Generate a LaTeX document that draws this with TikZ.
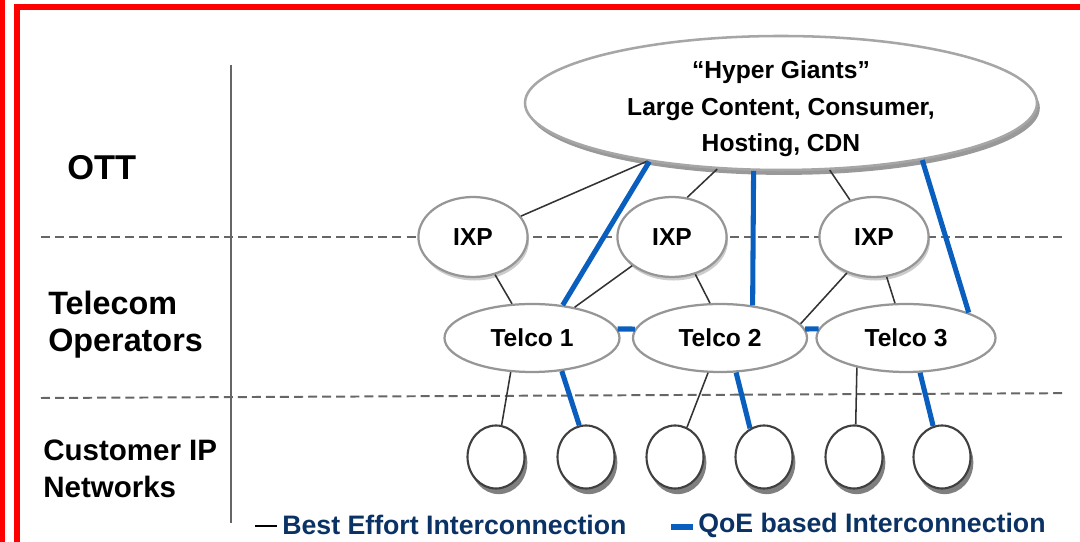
\documentclass[tikz,border=0pt]{standalone}
\usepackage{fontspec}
\setmainfont{Liberation Sans}
\usepackage{xcolor}
\usepackage{tikz}
\usetikzlibrary{
	shapes.geometric,
	shadows
}

\definecolor{frame-red}{RGB}{255,0,0}
\definecolor{qoe-blue}{RGB}{10,95,190}
\definecolor{legend-navy}{RGB}{10,50,100}
\definecolor{rim-gray}{RGB}{150,150,150}

\tikzset{
	layer-label/.style={anchor=west,align=left,inner sep=0pt},
	oval/.style={ellipse,draw=rim-gray,line width=1.6pt,fill=white,inner sep=0pt,
		font=\bfseries\fontsize{17.5}{26}\selectfont},
	ixp-oval/.style={oval,minimum width=2.73cm,minimum height=2cm,
		drop shadow={fill=black,opacity=0.2,shadow xshift=1pt,shadow yshift=-2.5pt}},
	telco-oval/.style={oval,minimum height=1.7cm},
	customer/.style={ellipse,draw=black!75,line width=1.5pt,fill=white,inner sep=0pt,
		minimum width=1.425cm,minimum height=1.575cm,
		drop shadow={fill=black,opacity=0.5,shadow xshift=2pt,shadow yshift=-4pt}},
	best-effort/.style={draw=black!80,line width=1.1pt},
	qoe/.style={draw=qoe-blue,line width=3.6pt},
	layer-sep/.style={draw=black!60,line width=1.4pt,dash pattern=on 6.4pt off 3.6pt},
	legend-text/.style={anchor=west,inner sep=0pt,text=legend-navy,
		font=\bfseries\fontsize{19}{22}\selectfont}
}

\begin{document}
\begin{tikzpicture}
		\useasboundingbox (0, 0) rectangle (27, 13.55);

		% red frame
		\draw[frame-red, line width=0.125cm] (0.0625, 0) -- (0.0625, 13.55);
		\draw[frame-red, line width=0.15cm] (0.425, 0) -- (0.425, 13.369) -- (27.2, 13.369);

		% layer separators
		\coordinate (sep-top-w) at (1.025, 7.625);
		\coordinate (sep-top-e) at (26.55, 7.625);
		\coordinate (sep-low-w) at (1.025, 3.6);
		\coordinate (sep-low-e) at (26.55, 3.72);
		\coordinate (axis-top) at (5.775, 11.925);
		\coordinate (axis-bottom) at (5.775, 0.475);
		\draw[layer-sep] (sep-top-w) -- (sep-top-e);
		\draw[layer-sep] (sep-low-w) -- (sep-low-e);
		\draw[draw=black!60, line width=1.4pt] (axis-top) -- (axis-bottom);

		\node[layer-label, font=\bfseries\fontsize{24.5}{28}\selectfont] at (1.675, 9.3625) (ott-label)
			{OTT};
		\node[layer-label, font=\bfseries\fontsize{23}{26.3}\selectfont] at (1.2, 5.425) (telecom-label)
			{Telecom\\Operators};
		\node[layer-label, font=\bfseries\fontsize{21}{26.3}\selectfont] at (1.075, 1.84) (customer-label)
			{Customer IP\\Networks};

		\node[oval, align=center, draw=gray!70, line width=1.8pt, inner ysep=-0.3cm,
			minimum width=12.8cm, minimum height=3.35cm,
			drop shadow={fill=black,opacity=0.4,shadow xshift=2pt,shadow yshift=-3.5pt}]
			at (19.525, 10.975) (hyper-giants)
			{\rule{0pt}{21pt}“Hyper Giants”\\Large Content, Consumer,\\Hosting, CDN};

		\node[ixp-oval] at (11.825, 7.625) (ixp-1) {IXP};
		\node[ixp-oval] at (16.8, 7.625) (ixp-2) {IXP};
		\node[ixp-oval] at (21.85, 7.625) (ixp-3) {IXP};

		\node[telco-oval, minimum width=4.375cm] at (13.3, 5.1) (telco-1) {Telco 1};
		\node[telco-oval, minimum width=4.35cm] at (18.0, 5.1) (telco-2) {Telco 2};
		\node[telco-oval, minimum width=4.475cm] at (22.65, 5.1) (telco-3) {Telco 3};

		\foreach \i/\x in {1/12.4, 2/14.65, 3/16.875, 4/19.1, 5/21.35, 6/23.55}
			\node[customer] at (\x, 2.125) (customer-\i) {};

		% best effort links
		\draw[best-effort] (hyper-giants) -- (ixp-1);
		\draw[best-effort] (hyper-giants.226) -- (ixp-2.69);
		\draw[best-effort] (hyper-giants.306) -- (ixp-3.123);
		\draw[best-effort] (ixp-1) -- (telco-1);
		\draw[best-effort] (ixp-2) -- (telco-1);
		\draw[best-effort] (ixp-2.302) -- (telco-2.106);
		\draw[best-effort] (ixp-3.233) -- (telco-2.10);
		\draw[best-effort] (ixp-3) -- (telco-3);
		\draw[best-effort] (telco-1.238) -- (customer-1.80);
		\draw[best-effort] (telco-2.251) -- (customer-3.68);
		\draw[best-effort] (telco-3.211) -- (customer-5.87);

		% QoE links
		\draw[qoe] (hyper-giants.204) -- (telco-1.47);
		\draw[qoe] (hyper-giants.248) -- (telco-2.45);
		\draw[qoe] (hyper-giants.338) -- (telco-3.22);
		\draw[qoe] (telco-1.312) -- (customer-2.102);
		\draw[qoe] (telco-2.295) -- (customer-4.116);
		\draw[qoe] (telco-3.292) -- (customer-6.106);
		\draw[qoe] (telco-1.6) -- (telco-2.174);
		\draw[qoe] (telco-2.6) -- (telco-3.174);

		% legend
		\coordinate (key-be-w) at (6.375, 0.4);
		\coordinate (key-be-e) at (6.925, 0.4);
		\coordinate (key-qoe-w) at (16.775, 0.375);
		\coordinate (key-qoe-e) at (17.325, 0.375);
		\draw[draw=black, line width=2pt] (key-be-w) -- (key-be-e);
		\draw[qoe] (key-qoe-w) -- (key-qoe-e);
		\node[legend-text] at (7.05, 0.425) (legend-best-effort) {Best Effort Interconnection};
		\node[legend-text] at (17.45, 0.425) (legend-qoe) {QoE based Interconnection};
	\end{tikzpicture}
\end{document}
